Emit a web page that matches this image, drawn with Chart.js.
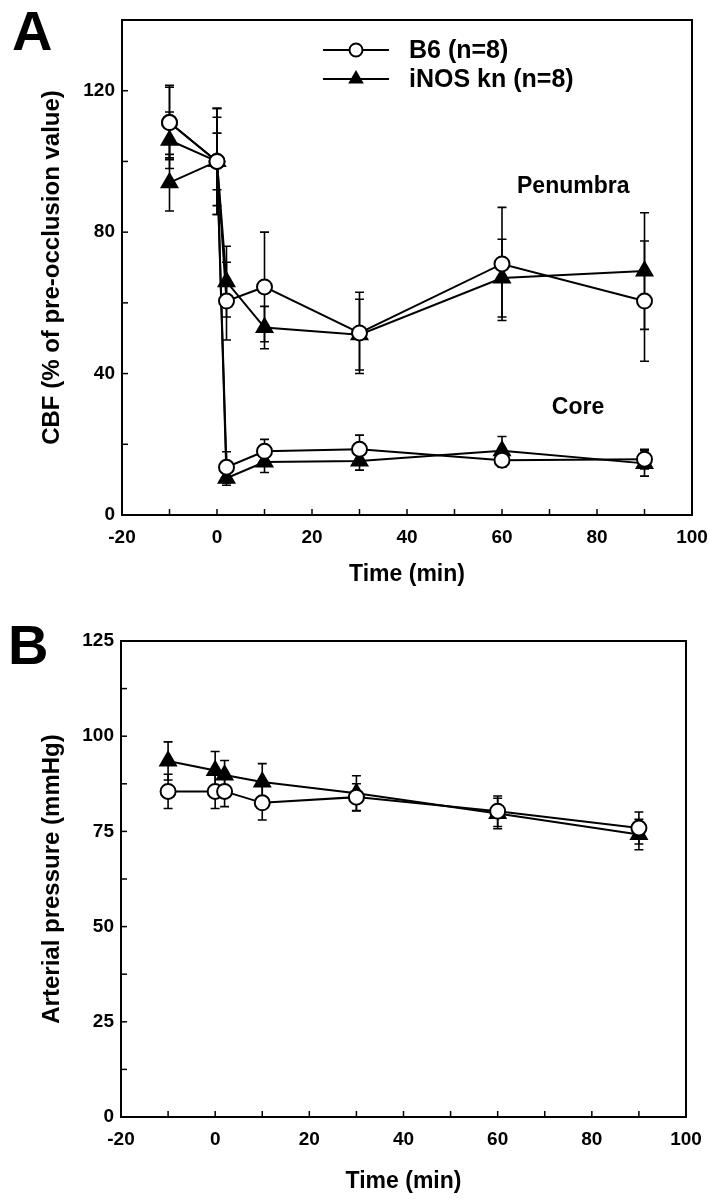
<!DOCTYPE html>
<html>
<head>
<meta charset="utf-8">
<script src="https://cdn.jsdelivr.net/npm/chart.js"></script>
<style>
body { margin: 0; background: #fff; }
.panel { position: absolute; left: 0; width: 710px; height: 600px; }
</style>
</head>
<body>
<div class="panel" style="top:0"><canvas id="chartA" width="710" height="600"></canvas></div>
<div class="panel" style="top:600px"><canvas id="chartB" width="710" height="600"></canvas></div>
<script>
var times = [-10, 0, 2, 10, 30, 60, 90];

// A: CBF, % of pre-occlusion value (mean and error)
var b6Penumbra      = [111, 100, 60.5, 64.5, 51.5, 71, 60.5];
var b6PenumbraErr   = [10.5, 15, 11, 15.5, 11.5, 16, 17];
var b6Core          = [111, 100, 13.5, 18, 18.6, 15.5, 15.8];
var b6CoreErr       = [10, 12.5, 4.4, 3.4, 4, 2, 2.8];
var inosPenumbra    = [94, 100, 66, 53, 51, 67, 69];
var inosPenumbraErr = [8, 15, 10, 6, 10, 11, 16.5];
var inosCore        = [106, 100, 10.4, 15, 15.3, 18.2, 14.6];
var inosCoreErr     = [8, 8, 2, 3, 2.6, 4, 3.6];

// B: arterial pressure, mmHg
var b6Pressure      = [85.5, 85.5, 85.5, 82.5, 84, 80.3, 75.9];
var b6PressureErr   = [4.5, 4.5, 4, 4.5, 3.5, 4, 4.2];
var inosPressure    = [93.5, 91, 89.8, 88, 85, 79.7, 74.2];
var inosPressureErr = [5, 5, 3.8, 4.8, 4.6, 4, 4];

var timeLabels = [-20, 0, 20, 40, 60, 80, 100];
var cbfLabels = [0, 40, 80, 120];
var pressureLabels = [0, 25, 50, 75, 100, 125];

var FONT = '"Liberation Sans", Arial, Helvetica, sans-serif';
Chart.defaults.font.family = FONT;
Chart.defaults.font.weight = 'bold';
Chart.defaults.color = '#000';

function points(ys) {
    return times.map(function (t, i) { return { x: t, y: ys[i] }; });
}

function series(label, ys, err, open) {
    return {
        label: label,
        data: points(ys),
        err: err,
        showLine: true,
        tension: 0,
        borderColor: '#000',
        borderWidth: 2,
        pointStyle: open ? 'circle' : 'triangle',
        pointRadius: open ? 7.5 : 9,
        pointBorderWidth: 2,
        pointBackgroundColor: open ? '#fff' : '#000',
        pointBorderColor: '#000'
    };
}

var errorBars = {
    id: 'errorBars',
    beforeDatasetsDraw: function (chart) {
        var ctx = chart.ctx, y = chart.scales.y;
        ctx.save();
        ctx.strokeStyle = '#000';
        ctx.lineWidth = 1.6;
        chart.data.datasets.forEach(function (ds, i) {
            chart.getDatasetMeta(i).data.forEach(function (pt, j) {
                var v = ds.data[j].y, e = ds.err[j];
                var top = y.getPixelForValue(v + e), bot = y.getPixelForValue(v - e);
                ctx.beginPath();
                ctx.moveTo(pt.x, top); ctx.lineTo(pt.x, bot);
                ctx.moveTo(pt.x - 4.5, top); ctx.lineTo(pt.x + 4.5, top);
                ctx.moveTo(pt.x - 4.5, bot); ctx.lineTo(pt.x + 4.5, bot);
                ctx.stroke();
            });
        });
        ctx.restore();
    }
};

function marker(ctx, open, x, y) {
    ctx.beginPath();
    if (open) {
        ctx.arc(x, y, 6.5, 0, Math.PI * 2);
        ctx.fillStyle = '#fff';
        ctx.fill();
        ctx.stroke();
    } else {
        ctx.moveTo(x, y - 9);
        ctx.lineTo(x + 7.8, y + 4.5);
        ctx.lineTo(x - 7.8, y + 4.5);
        ctx.closePath();
        ctx.fillStyle = '#000';
        ctx.fill();
    }
}

// box, inward ticks, panel letter, notes and legend
var frame = {
    id: 'frame',
    afterDraw: function (chart, args, opts) {
        var ctx = chart.ctx, a = chart.chartArea;
        var xs = chart.scales.x, ys = chart.scales.y;
        ctx.save();
        ctx.strokeStyle = '#000';
        ctx.lineWidth = 2;
        ctx.strokeRect(a.left, a.top, a.right - a.left, a.bottom - a.top);
        ctx.lineWidth = 1.5;
        xs.ticks.forEach(function (t) {
            var px = xs.getPixelForValue(t.value);
            ctx.beginPath(); ctx.moveTo(px, a.bottom); ctx.lineTo(px, a.bottom - 6); ctx.stroke();
        });
        ys.ticks.forEach(function (t) {
            var py = ys.getPixelForValue(t.value);
            ctx.beginPath(); ctx.moveTo(a.left, py); ctx.lineTo(a.left + 6, py); ctx.stroke();
        });

        ctx.fillStyle = '#000';
        ctx.textAlign = 'left';
        ctx.textBaseline = 'alphabetic';
        ctx.font = 'bold 56px ' + FONT;
        ctx.fillText(opts.letter, opts.letterX, opts.letterY);

        ctx.font = 'bold 23px ' + FONT;
        ctx.textAlign = 'center';
        ctx.textBaseline = 'middle';
        (opts.notes || []).forEach(function (n) {
            ctx.fillText(n.text, xs.getPixelForValue(n.x), ys.getPixelForValue(n.y));
        });

        (opts.legend || []).forEach(function (item, i) {
            var ly = a.top + 30 + i * 29;
            var lx = a.left + 201;
            ctx.lineWidth = 2;
            ctx.strokeStyle = '#000';
            ctx.beginPath(); ctx.moveTo(lx, ly); ctx.lineTo(lx + 66, ly); ctx.stroke();
            marker(ctx, item.open, lx + 33, ly);
            ctx.fillStyle = '#000';
            ctx.font = 'bold 25px ' + FONT;
            ctx.textAlign = 'left';
            ctx.textBaseline = 'middle';
            ctx.fillText(item.text, lx + 86, ly + 1);
        });
        ctx.restore();
    }
};

function axes(yMax, yStep, yLabels, yTitle, yWidth, xHeight, titlePad) {
    return {
        x: {
            type: 'linear',
            min: -20,
            max: 100,
            grid: { display: false, drawTicks: false },
            border: { display: false },
            ticks: {
                stepSize: 10,
                autoSkip: false,
                maxRotation: 0,
                padding: 11,
                font: { size: 19, weight: 'bold' },
                callback: function (v) { return timeLabels.indexOf(v) >= 0 ? v : ''; }
            },
            title: { display: true, text: 'Time (min)', font: { size: 23, weight: 'bold' }, padding: titlePad },
            afterFit: function (s) {
                s.height = xHeight;
                s.paddingLeft = 0;
                s.paddingRight = 0;
            }
        },
        y: {
            type: 'linear',
            min: 0,
            max: yMax,
            grid: { display: false, drawTicks: false },
            border: { display: false },
            ticks: {
                stepSize: yStep,
                autoSkip: false,
                padding: 7,
                font: { size: 19, weight: 'bold' },
                callback: function (v) { return yLabels.indexOf(v) >= 0 ? v : ''; }
            },
            title: { display: true, text: yTitle, font: { size: 24, weight: 'bold' }, padding: 10 },
            afterFit: function (s) {
                s.width = yWidth;
                s.paddingTop = 0;
                s.paddingBottom = 0;
            }
        }
    };
}

new Chart(document.getElementById('chartA'), {
    type: 'scatter',
    data: {
        datasets: [
            series('B6 penumbra', b6Penumbra, b6PenumbraErr, true),
            series('B6 core', b6Core, b6CoreErr, true),
            series('iNOS kn penumbra', inosPenumbra, inosPenumbraErr, false),
            series('iNOS kn core', inosCore, inosCoreErr, false)
        ]
    },
    options: {
        responsive: false,
        animation: false,
        layout: { padding: { left: 28, top: 20, right: 18, bottom: 0 } },
        scales: axes(140, 20, cbfLabels, 'CBF (% of pre-occlusion value)', 94, 85, 12),
        plugins: {
            legend: { display: false },
            tooltip: { enabled: false },
            frame: {
                letter: 'A', letterX: 12, letterY: 50,
                notes: [{ text: 'Penumbra', x: 75, y: 93 }, { text: 'Core', x: 76, y: 30.5 }],
                legend: [{ text: 'B6 (n=8)', open: true }, { text: 'iNOS kn (n=8)', open: false }]
            }
        }
    },
    plugins: [errorBars, frame]
});

new Chart(document.getElementById('chartB'), {
    type: 'scatter',
    data: {
        datasets: [
            series('B6', b6Pressure, b6PressureErr, true),
            series('iNOS kn', inosPressure, inosPressureErr, false)
        ]
    },
    options: {
        responsive: false,
        animation: false,
        layout: { padding: { left: 28, top: 41, right: 24, bottom: 0 } },
        scales: axes(125, 12.5, pressureLabels, 'Arterial pressure (mmHg)', 93, 83, 5),
        plugins: {
            legend: { display: false },
            tooltip: { enabled: false },
            frame: { letter: 'B', letterX: 8, letterY: 64 }
        }
    },
    plugins: [errorBars, frame]
});
</script>
</body>
</html>
